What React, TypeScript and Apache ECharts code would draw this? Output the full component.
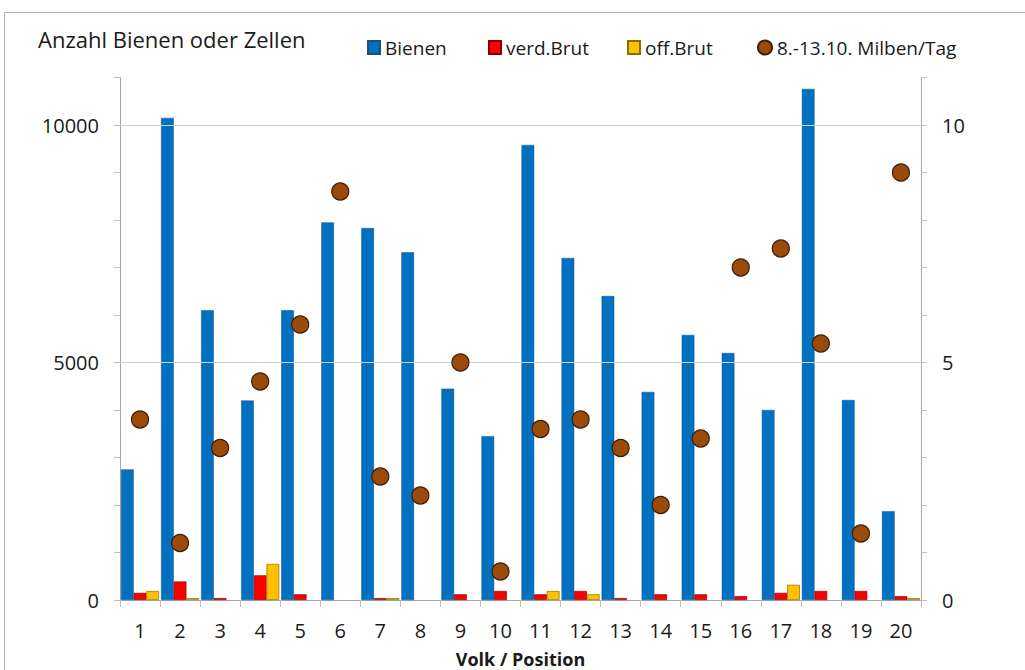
import React, { useEffect, useRef } from "react";
import * as echarts from "echarts";

const categories = ["1","2","3","4","5","6","7","8","9","10","11","12","13","14","15","16","17","18","19","20"];
const bienen = [2750,10150,6100,4200,6100,7950,7830,7320,4450,3450,9580,7200,6400,4380,5580,5200,4000,10760,4210,1870];
const verdBrut = [150,390,40,520,120,0,40,0,120,190,120,190,40,120,120,80,150,190,190,80];
const offBrut = [190,40,0,760,0,0,40,0,0,0,190,120,0,0,0,0,320,0,0,40];
const milben = [3.8,1.2,3.2,4.6,5.8,8.6,2.6,2.2,5.0,0.6,3.6,3.8,3.2,2.0,3.4,7.0,7.4,5.4,1.4,9.0];
const leftTicks = [0,5000,10000];
const rightTicks = [0,5,10];

const FONT = "Open Sans";

const noZero = (arr: number[]) => arr.map((v) => (v === 0 ? "-" : v));

export default function App() {
  const ref = useRef<HTMLDivElement>(null);
  useEffect(() => {
    const chart = echarts.init(ref.current!, null, { renderer: "svg" });
    const legendText = { fontFamily: FONT, fontSize: 19, color: "#1a1a1a" };
    const lg = (name: string, left: number, icon: string, w: number, h: number) => ({
      data: [{ name, icon }],
      left,
      top: 33,
      itemWidth: w,
      itemHeight: h,
      textStyle: legendText,
    });
    chart.setOption({
      animation: false,
      backgroundColor: "#ffffff",
      graphic: [
        {
          type: "rect",
          shape: { x: 4.5, y: 12.5, width: 1200, height: 900 },
          style: { fill: "none", stroke: "#b4b4b4", lineWidth: 1 },
          silent: true,
        },
        {
          type: "text",
          left: 38,
          top: 28,
          style: { text: "Anzahl Bienen oder Zellen", fontFamily: FONT, fontSize: 22, fill: "#1a1a1a" },
        },
      ],
      legend: [
        lg("Bienen", 362, "rect", 12, 13),
        lg("verd.Brut", 483, "rect", 12, 13),
        lg("off.Brut", 622, "rect", 12, 13),
        lg("8.-13.10. Milben/Tag", 752, "circle", 14, 14),
      ],
      grid: { left: 120, right: 104, top: 77.5, bottom: 70, containLabel: false, outerBoundsMode: "none" },
      xAxis: {
        type: "category",
        data: categories,
        name: "Volk / Position",
        nameLocation: "middle",
        nameGap: 50,
        nameTextStyle: { fontFamily: FONT, fontSize: 18, fontWeight: "bold", color: "#1a1a1a" },
        axisLine: { lineStyle: { color: "#a6a6a6", width: 1 } },
        axisTick: { show: true, length: 7, lineStyle: { color: "#bfbfbf" } },
        axisLabel: { fontFamily: FONT, fontSize: 20, color: "#1a1a1a", margin: 20 },
      },
      yAxis: [
        {
          type: "value",
          min: 0,
          max: 11000,
          interval: 1000,
          axisLine: { show: true, lineStyle: { color: "#a6a6a6" } },
          axisTick: { show: true, length: 6, lineStyle: { color: "#bfbfbf" } },
          splitLine: { show: false },
          axisLabel: {
            fontFamily: FONT,
            fontSize: 20,
            color: "#1a1a1a",
            margin: 21,
            formatter: (v: number) => (leftTicks.includes(v) ? String(v) : ""),
          },
        },
        {
          type: "value",
          min: 0,
          max: 11,
          interval: 1,
          position: "right",
          axisLine: { show: true, lineStyle: { color: "#a6a6a6" } },
          axisTick: { show: true, length: 6, lineStyle: { color: "#bfbfbf" } },
          splitLine: { show: false },
          axisLabel: {
            fontFamily: FONT,
            fontSize: 20,
            color: "#1a1a1a",
            margin: 21,
            formatter: (v: number) => (rightTicks.includes(v) ? String(v) : ""),
          },
        },
      ],
      series: [
        {
          name: "Bienen",
          type: "bar",
          data: noZero(bienen),
          barGap: "0%",
          barCategoryGap: "5%",
          itemStyle: { color: "#0070C0", borderColor: "#1f4e79", borderWidth: 0.5 },
          markLine: {
            silent: true,
            symbol: ["none", "none"],
            label: { show: false },
            lineStyle: { color: "#d0d0d0", type: "solid", width: 1 },
            data: leftTicks.filter((t) => t > 0).map((t) => ({ yAxis: t })),
          },
          z: 2,
        },
        {
          name: "verd.Brut",
          type: "bar",
          data: noZero(verdBrut),
          itemStyle: { color: "#FF0000", borderColor: "#8b0000", borderWidth: 0.7 },
          z: 2,
        },
        {
          name: "off.Brut",
          type: "bar",
          data: noZero(offBrut),
          itemStyle: { color: "#FFC000", borderColor: "#8a6d00", borderWidth: 0.7 },
          z: 2,
        },
        {
          name: "8.-13.10. Milben/Tag",
          type: "scatter",
          yAxisIndex: 1,
          data: milben,
          symbol: "circle",
          symbolSize: 17,
          itemStyle: { color: "#9C4A0A", borderColor: "#3b1f05", borderWidth: 1.2, opacity: 1 },
          z: 5,
        },
      ],
    });
    return () => chart.dispose();
  }, []);
  return <div ref={ref} style={{ position: "absolute", left: 0, top: 0, width: 1025, height: 670 }} />;
}
